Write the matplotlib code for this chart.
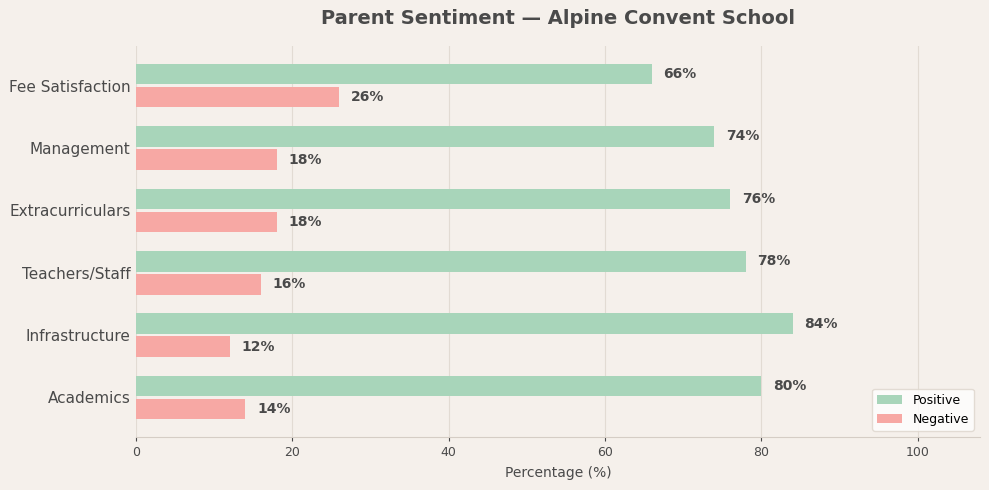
import matplotlib
matplotlib.use("Agg")
import matplotlib.pyplot as plt
import numpy as np

categories = ["Academics", "Infrastructure", "Teachers/Staff", "Extracurriculars", "Management", "Fee Satisfaction"]
positive = [80, 84, 78, 76, 74, 66]
negative = [14, 12, 16, 18, 18, 26]

bg = "#f5f0eb"
txt = "#4a4a4a"
green = "#a8d5ba"
red = "#f7a8a4"

fig = plt.figure(figsize=(9.89, 4.9), dpi=100, facecolor=bg)
ax = fig.add_axes([0.1375, 0.108, 0.8535, 0.798])
ax.set_facecolor(bg)

y = np.arange(len(categories))
h = 0.33
off = 0.185
ax.barh(y + off, positive, height=h, color=green, label="Positive", zorder=3)
ax.barh(y - off, negative, height=h, color=red, label="Negative", zorder=3)

for yi, p, n in zip(y, positive, negative):
    ax.text(p + 1.5, yi + off, f"{p}%", va="center", ha="left", fontsize=10, fontweight="bold", color=txt)
    ax.text(n + 1.5, yi - off, f"{n}%", va="center", ha="left", fontsize=10, fontweight="bold", color=txt)

ax.set_yticks(y)
ax.set_yticklabels(categories, fontsize=11, color=txt)
ax.set_xlim(0, 108)
ax.set_xlabel("Percentage (%)", fontsize=10, color=txt, labelpad=5)
ax.set_title("Parent Sentiment — Alpine Convent School", fontsize=14, fontweight="bold", color=txt, pad=16)
ax.tick_params(axis="x", colors=txt, labelsize=9, length=3)
ax.tick_params(axis="y", length=0, pad=4)
ax.xaxis.grid(True, color="#e2dbd3", linewidth=0.8, zorder=0)
ax.set_axisbelow(True)
for s in ["top", "right", "left"]:
    ax.spines[s].set_visible(False)
ax.spines["bottom"].set_color("#d5cdc5")

leg = ax.legend(loc="lower right", fontsize=9, frameon=True, facecolor="white", edgecolor="#ddd5cc")

fig.savefig("out.png", dpi=100, facecolor=bg)
